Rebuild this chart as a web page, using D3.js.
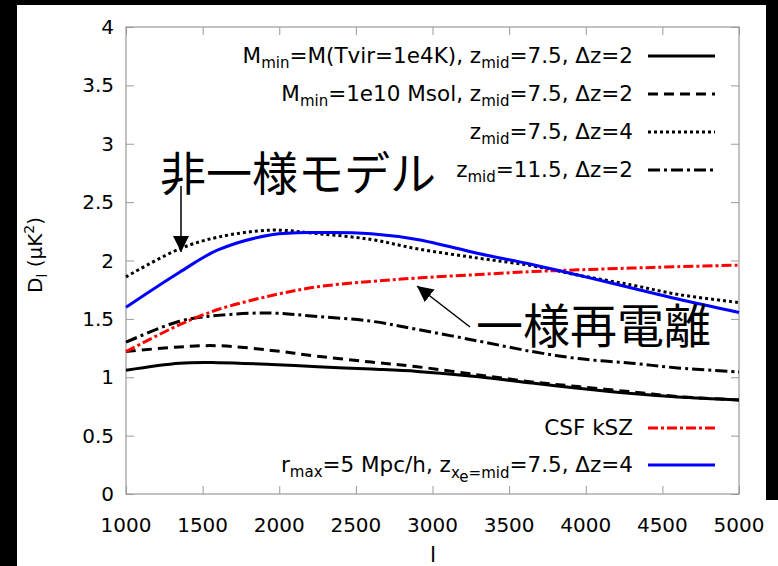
<!DOCTYPE html>
<html><head><meta charset="utf-8">
<script src="https://cdn.jsdelivr.net/npm/d3@7/dist/d3.min.js"></script>
<style>body{margin:0;background:#000;} svg{display:block;font-family:"DejaVu Sans",sans-serif;}</style>
</head><body>
<svg id="c" width="778" height="566"></svg>
<script>
const ells = [1000, 1350, 1600, 1950, 2250, 2600, 2900, 3300, 3650, 3950, 4300, 4600, 5000];
const solidTvir   = [1.06, 1.12, 1.125, 1.11, 1.09, 1.07, 1.05, 1.005, 0.95, 0.905, 0.86, 0.83, 0.805];
const dashed1e10  = [1.22, 1.26, 1.27, 1.23, 1.18, 1.13, 1.09, 1.02, 0.96, 0.92, 0.875, 0.835, 0.805];
const dottedDz4   = [1.86, 2.10, 2.20, 2.26, 2.23, 2.18, 2.10, 2.02, 1.955, 1.875, 1.79, 1.71, 1.64];
const dashDotZ115 = [1.30, 1.48, 1.53, 1.55, 1.52, 1.48, 1.41, 1.31, 1.22, 1.16, 1.12, 1.08, 1.045];
const csfKsz      = [1.22, 1.45, 1.58, 1.70, 1.775, 1.82, 1.85, 1.88, 1.905, 1.92, 1.935, 1.947, 1.96];
const rmaxBlue    = [1.60, 1.90, 2.09, 2.22, 2.24, 2.23, 2.18, 2.06, 1.965, 1.875, 1.765, 1.67, 1.555];
const xTicks = [1000, 1500, 2000, 2500, 3000, 3500, 4000, 4500, 5000];
const yTicks = [0, 0.5, 1, 1.5, 2, 2.5, 3, 3.5, 4];

const svg = d3.select("#c");
// frame
svg.append("rect").attr("x",0).attr("y",0).attr("width",778).attr("height",566).attr("fill","#000");
svg.append("rect").attr("x",17).attr("y",5).attr("width",749).attr("height",561).attr("fill","#fff");
svg.append("rect").attr("x",766).attr("y",500).attr("width",12).attr("height",66).attr("fill","#fff");

const L=126, R=739, T=27, B=494;
const x = d3.scaleLinear().domain([1000,5000]).range([L,R]);
const y = d3.scaleLinear().domain([0,4]).range([B,T]);
const gray="#9a9a9a";

const g = svg.append("g");
// ticks inside, all four sides
const axB = d3.axisBottom(x).tickValues(xTicks).tickSize(-8).tickFormat("");
const axT = d3.axisTop(x).tickValues(xTicks).tickSize(-8).tickFormat("");
const axL = d3.axisLeft(y).tickValues(yTicks).tickSize(-8).tickFormat("");
const axR = d3.axisRight(y).tickValues(yTicks).tickSize(-8).tickFormat("");
[[axB,`translate(0,${B})`],[axT,`translate(0,${T})`],[axL,`translate(${L},0)`],[axR,`translate(${R},0)`]].forEach(([a,t])=>{
  const s=g.append("g").attr("transform",t).call(a);
  s.select(".domain").remove();
  s.selectAll("line").attr("stroke",gray).attr("stroke-width",1);
});
g.append("rect").attr("x",L).attr("y",T).attr("width",R-L).attr("height",B-T)
  .attr("fill","none").attr("stroke",gray).attr("stroke-width",1.2);

// tick labels
g.selectAll(".xl").data(xTicks).join("text").attr("x",d=>x(d)).attr("y",532)
  .attr("text-anchor","middle").attr("font-size",20).text(d=>d);
g.selectAll(".yl").data(yTicks).join("text").attr("x",114).attr("y",d=>y(d)+7)
  .attr("text-anchor","end").attr("font-size",20).text(d=>d);

// axis titles
const yt = svg.append("text").attr("transform","translate(42,255) rotate(-90)")
  .attr("text-anchor","middle").attr("font-size",20);
yt.append("tspan").text("D");
yt.append("tspan").attr("font-size",14).attr("dy",5).text("l");
yt.append("tspan").attr("dy",-5).text(" (μK");
yt.append("tspan").attr("font-size",14).attr("dy",-8).text("2");
yt.append("tspan").attr("dy",8).text(")");
svg.append("text").attr("x",433).attr("y",562).attr("text-anchor","middle").attr("font-size",22).text("l");

// series
const series = [
  {v:solidTvir, color:"#000", dash:null},
  {v:dashed1e10, color:"#000", dash:"10,6"},
  {v:dottedDz4, color:"#000", dash:"3,3"},
  {v:dashDotZ115, color:"#000", dash:"12,4,3,4"},
  {v:csfKsz, color:"#ff0000", dash:"10,3,3,3"},
  {v:rmaxBlue, color:"#0000ff", dash:null}
];
const line = d3.line().x(d=>x(d[0])).y(d=>y(d[1])).curve(d3.curveCatmullRom.alpha(0.5));
const pg = svg.append("g");
series.forEach(s=>{
  pg.append("path").attr("d",line(ells.map((l,i)=>[l,s.v[i]])))
    .attr("fill","none").attr("stroke",s.color).attr("stroke-width",3)
    .attr("stroke-dasharray",s.dash);
});

// legend
function legendRow(yy, parts, color, dash){
  const t = svg.append("text").attr("x",633).attr("y",yy+7).attr("text-anchor","end").attr("font-size",21.5);
  parts.forEach(p=>{
    const ts=t.append("tspan").text(p.t);
    if(p.sub){ts.attr("font-size",15).attr("dy",p.dy);}
    else if(p.dy){ts.attr("dy",p.dy);}
  });
  svg.append("line").attr("x1",648).attr("x2",715).attr("y1",yy).attr("y2",yy)
    .attr("stroke",color).attr("stroke-width",3).attr("stroke-dasharray",dash);
}
legendRow(56,[{t:"M"},{t:"min",sub:1,dy:5},{t:"=M(Tvir=1e4K), z",dy:-5},{t:"mid",sub:1,dy:5},{t:"=7.5, Δz=2",dy:-5}],"#000",null);
legendRow(94,[{t:"M"},{t:"min",sub:1,dy:5},{t:"=1e10 Msol, z",dy:-5},{t:"mid",sub:1,dy:5},{t:"=7.5, Δz=2",dy:-5}],"#000","10,6");
legendRow(132,[{t:"z"},{t:"mid",sub:1,dy:5},{t:"=7.5, Δz=4",dy:-5}],"#000","3,3");
legendRow(170,[{t:"z"},{t:"mid",sub:1,dy:5},{t:"=11.5, Δz=2",dy:-5}],"#000","12,4,3,4");
legendRow(428,[{t:"CSF kSZ"}],"#ff0000","10,3,3,3");
legendRow(465,[{t:"r"},{t:"max",sub:1,dy:5},{t:"=5 Mpc/h, z",dy:-5},{t:"x",sub:1,dy:6},{t:"e",sub:1,dy:4},{t:"=mid",sub:1,dy:-4},{t:"=7.5, Δz=4",dy:-6}],"#0000ff",null);

// annotations
const defs = svg.append("defs");
defs.append("marker").attr("id","ah").attr("viewBox","0 0 10 10").attr("refX",10).attr("refY",5)
  .attr("markerWidth",16).attr("markerHeight",16).attr("markerUnits","userSpaceOnUse").attr("orient","auto")
  .append("path").attr("d","M0,0 L10,5 L0,10 z").attr("fill","#000");
const jp = '"Noto Sans CJK JP","Noto Sans CJK SC",sans-serif';
svg.append("text").attr("x",160).attr("y",190).attr("font-family",jp).attr("font-size",46).text("非一様モデル");
svg.append("line").attr("x1",181).attr("y1",186).attr("x2",181).attr("y2",252)
  .attr("stroke","#000").attr("stroke-width",1.5).attr("marker-end","url(#ah)");
svg.append("text").attr("x",476).attr("y",343).attr("font-family",jp).attr("font-size",47).text("一様再電離");
svg.append("line").attr("x1",470).attr("y1",327).attr("x2",417).attr("y2",286)
  .attr("stroke","#000").attr("stroke-width",1.5).attr("marker-end","url(#ah)");
</script>
</body></html>
